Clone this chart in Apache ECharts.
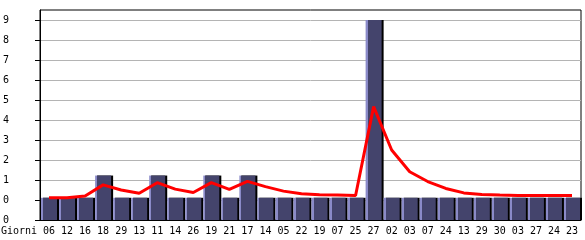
<!DOCTYPE html>
<html><head><meta charset="utf-8">
<script src="https://cdn.jsdelivr.net/npm/echarts@6/dist/echarts.min.js"></script>
<style>html,body{margin:0;padding:0;background:#fff}#c{width:585px;height:240px}</style>
</head><body><div id="c"></div>
<script>
const categories = ['06','12','16','18','29','13','11','14','26','19','21','17','14','05','22','19','07','25','27','02','03','07','24','13','29','30','03','27','24','23'];
const barValues = [1,1,1,2,1,1,2,1,1,2,1,2,1,1,1,1,1,1,9,1,1,1,1,1,1,1,1,1,1,1];
const lineValues = [1.0,1.0,1.08,1.58,1.35,1.2,1.68,1.39,1.24,1.68,1.38,1.74,1.5,1.3,1.18,1.14,1.12,1.1,5.1,3.15,2.17,1.73,1.42,1.22,1.15,1.12,1.1,1.1,1.1,1.1];
const yTickValues = [0,0.9,1.8,2.7,3.6,4.5,5.4,6.3,7.2,8.1,9];
const yTickLabels = ['0','0','1','2','3','4','5','6','7','8','9'];
const xAxisTitle = 'Giorni';

const font = 'DejaVu Sans Mono';
const chart = echarts.init(document.getElementById('c'), null, {renderer:'canvas'});
chart.setOption({
  animation:false,
  backgroundColor:'#fff',
  grid:{left:40,right:4,top:10,bottom:20,show:true,borderColor:'#000',borderWidth:1,backgroundColor:'transparent'},
  graphic:[{type:'text',left:1,top:226,style:{text:xAxisTitle,font:'10px "DejaVu Sans Mono"',fill:'#000'}}],
  xAxis:{
    type:'category',data:categories,boundaryGap:true,
    axisLine:{lineStyle:{color:'#000',width:1}},
    axisTick:{alignWithLabel:true,length:4,lineStyle:{color:'#000'}},
    axisLabel:{color:'#000',fontFamily:font,fontSize:10,margin:6,interval:0}
  },
  yAxis:{
    type:'value',min:0,max:9.45,
    axisLine:{show:true,lineStyle:{color:'#000',width:1}},
    axisTick:{show:true,length:5,customValues:yTickValues,lineStyle:{color:'#000'}},
    axisLabel:{customValues:yTickValues,color:'#000',fontFamily:font,fontSize:10,align:'left',margin:37,
      formatter:function(v){const i=yTickValues.findIndex(t=>Math.abs(t-v)<1e-6);return i>=0?yTickLabels[i]:'';}},
    splitLine:{show:true,lineStyle:{color:'#b4b4b4',width:1}}
  },
  series:[
    {type:'bar',data:barValues,barWidth:16,z:2,
      itemStyle:{
        color:new echarts.graphic.LinearGradient(0,0,1,0,[
          {offset:0,color:'#8a8ac8'},{offset:0.13,color:'#8a8ac8'},
          {offset:0.13,color:'#44446c'},{offset:1,color:'#44446c'}]),
        shadowColor:'#000',shadowOffsetX:2,shadowOffsetY:0,shadowBlur:0
      }},
    {type:'line',data:lineValues,symbol:'none',smooth:false,z:5,
      lineStyle:{color:'#ff0000',width:3}}
  ]
});
</script></body></html>
